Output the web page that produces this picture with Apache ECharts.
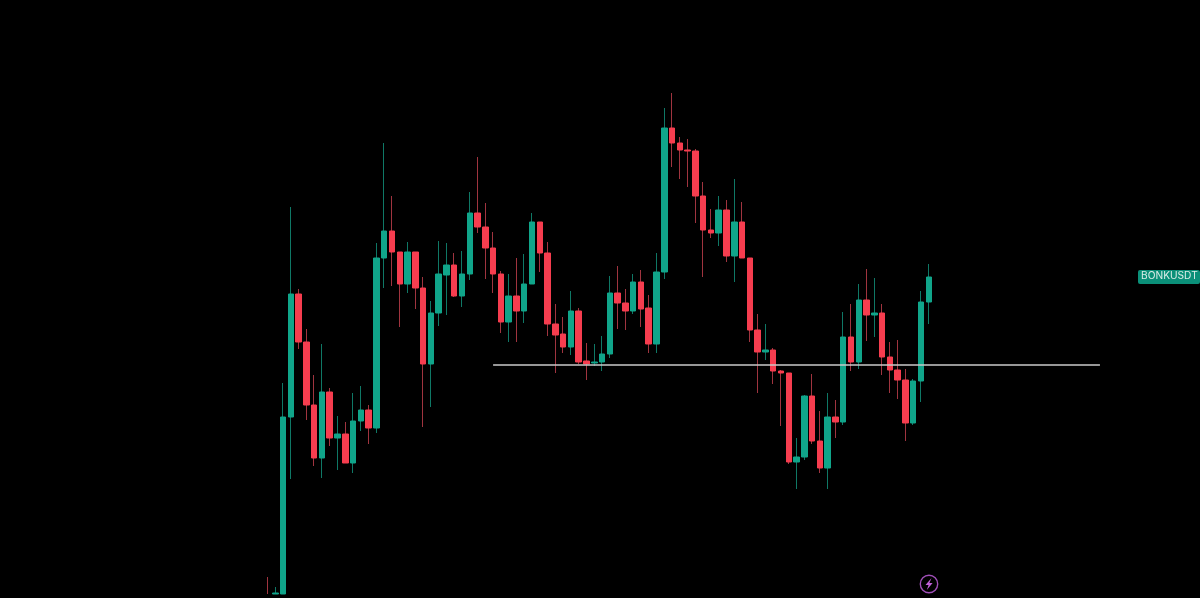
<!DOCTYPE html>
<html>
<head>
<meta charset="utf-8">
<style>html,body{margin:0;padding:0;background:#000}#c{width:1200px;height:598px}</style>
<script src="https://cdn.jsdelivr.net/npm/echarts@6/dist/echarts.min.js"></script>
</head>
<body>
<div id="c"></div>
<script>
const opens = [5,4,4,181,304,256,193,140,206,160,164,135,177,188,170,340,367,346,314,346,310,234,285,323,333,302,324,385,371,350,324,276,302,287,314,376,345,274,264,251,287,237,235,236,244,305,295,287,316,290,254,326,470,455,448,447,402,368,365,388,342,376,340,268,246,248,227,225,136,141,202,157,130,181,176,261,236,298,283,285,241,228,218,175,217,296];
const closes = [4,5,181,304,256,193,140,206,160,164,135,177,188,170,340,367,346,314,346,310,234,285,324,333,302,324,385,371,350,324,276,302,287,314,376,345,274,263,251,287,236,234,236,244,305,295,287,316,289,254,326,470,455,448,447,402,368,365,388,342,376,340,268,246,248,227,225,136,141,202,157,130,181,176,261,236,298,283,285,241,228,218,175,217,296,321];
const lows = [4,4,4,119,249,178,132,120,152,128,135,125,167,154,165,310,312,271,305,289,171,191,272,283,301,291,318,365,319,305,265,256,256,275,314,326,262,225,245,243,234,218,232,227,240,269,268,284,271,245,245,319,431,419,411,375,321,360,352,336,316,340,256,205,238,214,172,134,109,138,154,125,109,160,173,227,229,257,261,223,205,199,157,173,196,274];
const highs = [21,11,215,391,309,269,223,254,210,182,176,205,212,193,355,455,402,346,356,346,321,297,357,355,345,347,406,441,395,366,327,324,340,344,385,376,356,294,281,307,290,255,254,262,322,332,309,324,328,303,345,490,505,461,459,449,416,389,402,398,419,396,340,284,274,250,228,225,160,203,224,187,205,198,286,294,314,329,320,294,256,258,229,219,307,334];
const levelValue = 233;
const levelStart = 29;
const levelEnd = 107;
const slotCount = 120;
const symbolName = 'BONKUSDT';

const categories = Array.from({length: slotCount}, (_, i) => String(i));
const candleData = opens.map((o, i) => [o, closes[i], lows[i], highs[i]]);
// The first candle shows only its wick in the picture, so it gets no body.
const bodyData = opens.map((o, i) => i === 0 ? '-' : [o, closes[i], Math.min(o, closes[i]), Math.max(o, closes[i])]);
const levelData = categories.map((_, i) => (i >= levelStart && i <= levelEnd) ? levelValue : null);

const GREEN = '#10a58a', RED = '#f63d4f';
const chart = echarts.init(document.getElementById('c'), null, {renderer: 'canvas'});
chart.setOption({
  backgroundColor: '#000',
  animation: false,
  tooltip: {show: false},
  grid: {left: 263.6, right: 2.8, top: 0, bottom: 0, containLabel: false},
  xAxis: {type: 'category', data: categories, boundaryGap: true, show: false},
  yAxis: {type: 'value', min: 0, max: 598, show: false, splitLine: {show: false}, scale: false},
  series: [
    {name: 'wicks', type: 'candlestick', data: candleData, barWidth: 1, z: 2, silent: true,
     itemStyle: {color: '#0f7866', color0: '#a0343f', borderColor: '#0f7866', borderColor0: '#a0343f', borderWidth: 1}},
    {name: 'bodies', type: 'candlestick', data: bodyData, barWidth: 6, z: 3, silent: true,
     itemStyle: {color: GREEN, color0: RED, borderColor: GREEN, borderColor0: RED, borderWidth: 1}},
    {name: 'level', type: 'line', data: levelData, showSymbol: false, symbol: 'none', z: 4, silent: true,
     connectNulls: false, lineStyle: {color: '#c9c9c9', width: 1.5}}
  ],
  graphic: [
    {type: 'rect', left: 1138, top: 270, shape: {width: 62, height: 14, r: 2}, style: {fill: '#0b9079'}, z: 10},
    {type: 'text', left: 1141, top: 271, style: {text: symbolName, fill: '#d9ece7', font: '10.2px "Inter", "Liberation Sans", sans-serif'}, z: 11},
    {type: 'circle', shape: {cx: 929, cy: 584, r: 8.7}, style: {fill: 'transparent', stroke: '#a04fb8', lineWidth: 1.4}, z: 10},
    {type: 'polygon', shape: {points: [[931.5,578],[925.5,585],[928.6,585],[926.8,590],[932.6,583],[929.4,583]]}, style: {fill: '#c060d8'}, z: 11}
  ]
});
</script>
</body>
</html>
